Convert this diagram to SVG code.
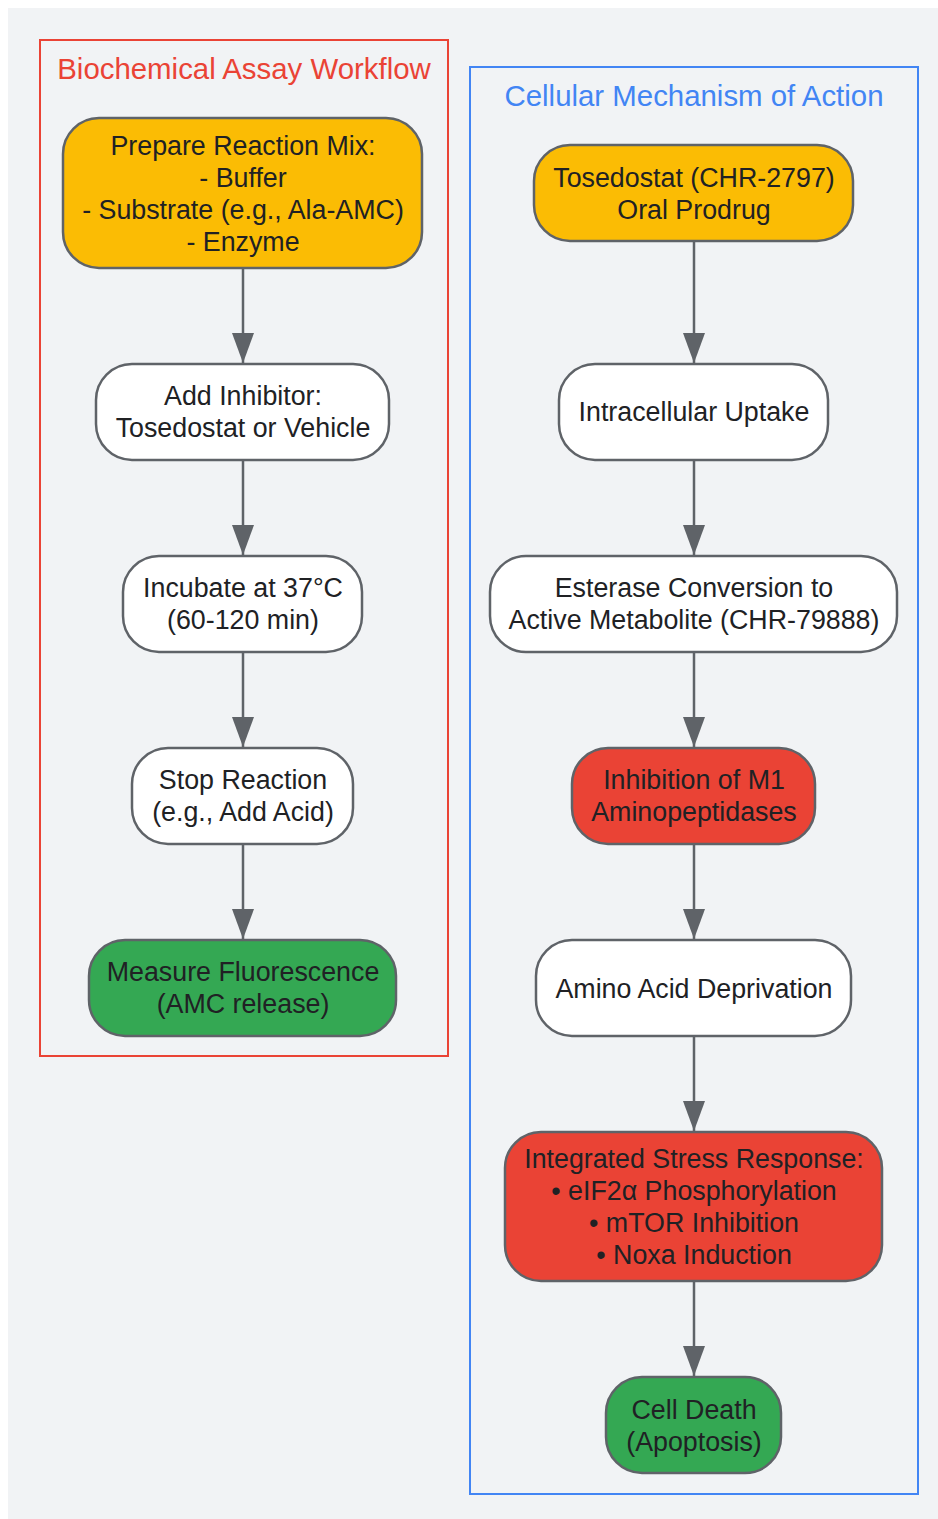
<svg xmlns="http://www.w3.org/2000/svg" width="938" height="1519" viewBox="0 0 938 1519">
<style>
.bg{fill:#f1f3f5}
.node rect{stroke:#5f6368;stroke-width:2.5}
.y rect{fill:#fbbc04}
.w rect{fill:#ffffff}
.r rect{fill:#ea4335}
.g rect{fill:#34a853}
text{font-family:"Liberation Sans",Arial,sans-serif;font-size:26.8px;fill:#202124;text-anchor:middle}
.title{font-size:29.4px}
.edge{stroke:#5f6368;stroke-width:2.5;fill:none}
</style>
<defs>
<marker id="arrow" markerUnits="userSpaceOnUse" viewBox="0 0 30 22" refX="30" refY="11" markerWidth="30" markerHeight="22" orient="auto">
<path d="M0,0 L30,11 L0,22 z" fill="#5f6368"/>
</marker>
</defs>
<rect class="bg" x="8" y="8" width="930" height="1511"/>
<g id="cluster-assay">
<rect x="40" y="40" width="408" height="1016" fill="none" stroke="#ea4335" stroke-width="2"/>
<text class="title" x="244" y="79" style="fill:#ea4335">Biochemical Assay Workflow</text>
</g>
<g id="cluster-moa">
<rect x="470" y="67" width="448" height="1427" fill="none" stroke="#4285f4" stroke-width="2"/>
<text class="title" x="694" y="106" style="fill:#4285f4">Cellular Mechanism of Action</text>
</g>
<g id="edges">
<line class="edge" x1="243" y1="268" x2="243" y2="363" marker-end="url(#arrow)"/>
<line class="edge" x1="243" y1="460" x2="243" y2="555" marker-end="url(#arrow)"/>
<line class="edge" x1="243" y1="652" x2="243" y2="747" marker-end="url(#arrow)"/>
<line class="edge" x1="243" y1="844" x2="243" y2="939" marker-end="url(#arrow)"/>
<line class="edge" x1="694" y1="241" x2="694" y2="363" marker-end="url(#arrow)"/>
<line class="edge" x1="694" y1="460" x2="694" y2="555" marker-end="url(#arrow)"/>
<line class="edge" x1="694" y1="652" x2="694" y2="747" marker-end="url(#arrow)"/>
<line class="edge" x1="694" y1="844" x2="694" y2="939" marker-end="url(#arrow)"/>
<line class="edge" x1="694" y1="1036" x2="694" y2="1131" marker-end="url(#arrow)"/>
<line class="edge" x1="694" y1="1281" x2="694" y2="1376" marker-end="url(#arrow)"/>
</g>
<g id="n-prepare" class="node y">
<rect x="63" y="118" width="359" height="150" rx="36"/>
<text x="243" y="155">Prepare Reaction Mix:</text>
<text x="243" y="187">- Buffer</text>
<text x="243" y="219">- Substrate (e.g., Ala-AMC)</text>
<text x="243" y="251">- Enzyme</text>
</g>
<g id="n-inhibitor" class="node w">
<rect x="96" y="364" width="293" height="96" rx="36"/>
<text x="243" y="405">Add Inhibitor:</text>
<text x="243" y="437">Tosedostat or Vehicle</text>
</g>
<g id="n-incubate" class="node w">
<rect x="123" y="556" width="239" height="96" rx="36"/>
<text x="243" y="597">Incubate at 37°C</text>
<text x="243" y="629">(60-120 min)</text>
</g>
<g id="n-stop" class="node w">
<rect x="132" y="748" width="221" height="96" rx="36"/>
<text x="243" y="789">Stop Reaction</text>
<text x="243" y="821">(e.g., Add Acid)</text>
</g>
<g id="n-measure" class="node g">
<rect x="89" y="940" width="307" height="96" rx="36"/>
<text x="243" y="981">Measure Fluorescence</text>
<text x="243" y="1013">(AMC release)</text>
</g>
<g id="n-tosedostat" class="node y">
<rect x="534" y="145" width="319" height="96" rx="36"/>
<text x="694" y="187">Tosedostat (CHR-2797)</text>
<text x="694" y="219">Oral Prodrug</text>
</g>
<g id="n-uptake" class="node w">
<rect x="559" y="364" width="269" height="96" rx="36"/>
<text x="694" y="421">Intracellular Uptake</text>
</g>
<g id="n-esterase" class="node w">
<rect x="490" y="556" width="407" height="96" rx="36"/>
<text x="694" y="597">Esterase Conversion to</text>
<text x="694" y="629">Active Metabolite (CHR-79888)</text>
</g>
<g id="n-m1" class="node r">
<rect x="572" y="748" width="243" height="96" rx="36"/>
<text x="694" y="789">Inhibition of M1</text>
<text x="694" y="821">Aminopeptidases</text>
</g>
<g id="n-aa" class="node w">
<rect x="536" y="940" width="315" height="96" rx="36"/>
<text x="694" y="998">Amino Acid Deprivation</text>
</g>
<g id="n-isr" class="node r">
<rect x="505" y="1132" width="377" height="149" rx="36"/>
<text x="694" y="1168">Integrated Stress Response:</text>
<text x="694" y="1200">• eIF2α Phosphorylation</text>
<text x="694" y="1232">• mTOR Inhibition</text>
<text x="694" y="1264">• Noxa Induction</text>
</g>
<g id="n-death" class="node g">
<rect x="606" y="1377" width="175" height="96" rx="36"/>
<text x="694" y="1419">Cell Death</text>
<text x="694" y="1451">(Apoptosis)</text>
</g>
</svg>
